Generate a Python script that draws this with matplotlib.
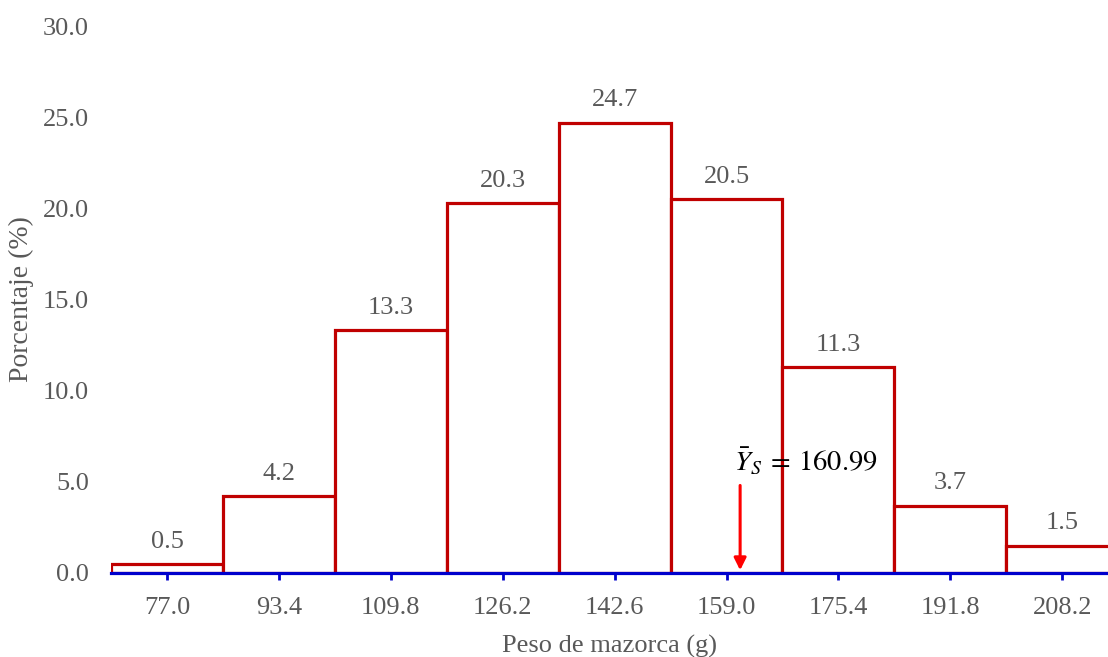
import numpy as np
import matplotlib.pyplot as plt

plt.rcParams['font.family'] = ['Liberation Serif', 'DejaVu Serif']
plt.rcParams['mathtext.fontset'] = 'stix'

# bin centres (g) and percentage per class
centros = [77.0, 93.4, 109.8, 126.2, 142.6, 159.0, 175.4, 191.8, 208.2]
porcentaje = [0.5, 4.2, 13.3, 20.3, 24.7, 20.5, 11.3, 3.7, 1.5]
ancho = 16.4
media = 160.99

gris = '#595959'
rojo = '#C00000'
azul = '#0000CC'

fig = plt.figure(figsize=(11.08, 6.57), dpi=100)
ax = fig.add_axes([0.1002, 0.1279, 0.8998, 0.8325])

ax.bar(centros, porcentaje, width=ancho, facecolor='white', edgecolor=rojo,
       linewidth=2.3, zorder=2)
for c, p in zip(centros, porcentaje):
    ax.annotate(f'{p:.1f}', (c, p), xytext=(0, 16), textcoords='offset points',
                ha='center', va='center', fontsize=19, color=gris)

ax.annotate('', xy=(media, 0.15), xytext=(media, 4.8),
            arrowprops=dict(arrowstyle='-|>', color='red', lw=2.2,
                            mutation_scale=18, shrinkA=0, shrinkB=0), zorder=4)
ax.text(media - 0.9, 6.1, r'$\bar{Y}_S\:=\:160.99$', fontsize=20.5, color='black',
        ha='left', va='center', zorder=5)

ax.set_xlim(centros[0] - ancho / 2, 214.9)
ax.set_ylim(0, 30)
ax.set_xticks(centros)
ax.set_xticklabels([f'{c:.1f}' for c in centros])
ax.set_yticks(np.arange(0, 31, 5))
ax.set_yticklabels([f'{v:.1f}' for v in np.arange(0, 31, 5)])

for s in ['top', 'right', 'left']:
    ax.spines[s].set_visible(False)
ax.spines['bottom'].set_color(azul)
ax.spines['bottom'].set_linewidth(2.3)
ax.spines['bottom'].set_zorder(3)
ax.tick_params(axis='x', direction='out', length=5, width=2, color=azul,
               labelsize=19, labelcolor=gris, pad=12)
ax.tick_params(axis='y', length=0, labelsize=19, labelcolor=gris, pad=16)

ax.set_xlabel('Peso de mazorca (g)', fontsize=19, color=gris, labelpad=12)
ax.set_ylabel('Porcentaje (%)', fontsize=20, color=gris, labelpad=6)

fig.savefig('out.png', dpi=100)
